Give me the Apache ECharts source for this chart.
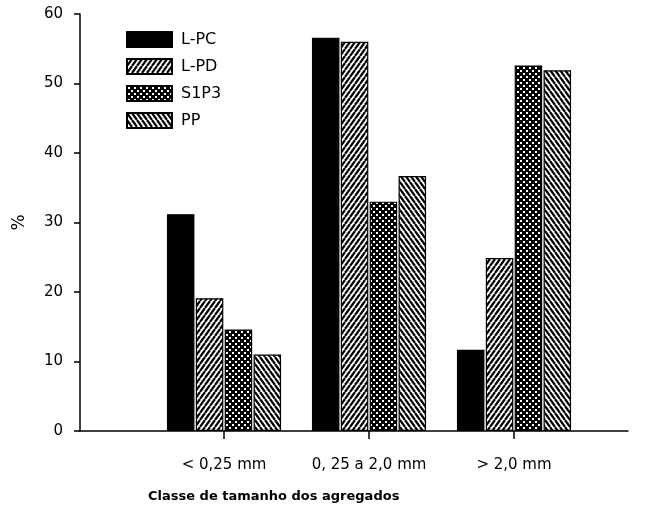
<!DOCTYPE html>
<html><head><meta charset="utf-8">
<script src="https://cdn.jsdelivr.net/npm/echarts@6/dist/echarts.min.js"></script>
<style>html,body{margin:0;padding:0;background:#fff}#c{width:654px;height:509px}</style>
</head><body><div id="c"></div>
<script>
const categories = ['< 0,25 mm', '0, 25 a 2,0 mm', '> 2,0 mm'];
const seriesNames = ['L-PC', 'L-PD', 'S1P3', 'PP'];
const valuesLPC = [31.2, 56.6, 11.7];
const valuesLPD = [19.1, 56.0, 24.9];
const valuesS1P3 = [14.6, 33.0, 52.6];
const valuesPP = [11.0, 36.7, 51.9];
const yTicks = [0, 10, 20, 30, 40, 50, 60];
const yTitle = '%';
const xTitle = 'Classe de tamanho dos agregados';

function tile(w, h, draw) {
  const c = document.createElement('canvas');
  c.width = w; c.height = h;
  const ctx = c.getContext('2d');
  draw(ctx, w, h);
  return c;
}
function stripes(dir) {
  return tile(5, 7, (ctx, w, h) => {
    ctx.fillStyle = '#fff'; ctx.fillRect(0, 0, w, h);
    ctx.strokeStyle = '#000'; ctx.lineWidth = 2.2;
    for (let k = -1; k <= 1; k++) {
      ctx.beginPath();
      if (dir > 0) { ctx.moveTo(k * w, h); ctx.lineTo(k * w + w, 0); }
      else { ctx.moveTo(k * w, 0); ctx.lineTo(k * w + w, h); }
      ctx.stroke();
    }
  });
}
const patLPD = stripes(1);
const patPP = stripes(-1);
const patS1P3 = tile(6, 6, (ctx, w, h) => {
  ctx.fillStyle = '#000'; ctx.fillRect(0, 0, w, h);
  ctx.fillStyle = '#fff';
  ctx.fillRect(1, 1, 2, 2);
  ctx.fillRect(4, 4, 2, 2);
});
function pat(src) { return { image: src, repeat: 'repeat' }; }

const fills = ['#000', pat(patLPD), pat(patS1P3), pat(patPP)];
const vals = [valuesLPC, valuesLPD, valuesS1P3, valuesPP];

const chart = echarts.init(document.getElementById('c'), null, { renderer: 'canvas' });
const font = 'DejaVu Sans';
const gridTop = 14, gridBottom = 509 - 431;
chart.setOption({
  animation: false,
  backgroundColor: '#fff',
  textStyle: { fontFamily: font },
  legend: {
    orient: 'vertical', left: 121, top: 26, itemWidth: 45, itemHeight: 15, itemGap: 10,
    icon: 'rect',
    textStyle: { fontFamily: font, fontSize: 16, color: '#000', padding: [0, 0, 0, 4] },
    data: seriesNames
  },
  grid: [
    { left: 80, right: 26, top: gridTop, bottom: gridBottom },
    { left: 151.5, width: 435, top: gridTop, bottom: gridBottom }
  ],
  xAxis: [
    { type: 'value', gridIndex: 0, min: 0, max: 1,
      axisLine: { show: true, lineStyle: { color: '#000', width: 1.5 } },
      axisTick: { show: false }, axisLabel: { show: false }, splitLine: { show: false } },
    { type: 'category', gridIndex: 1, data: categories,
      axisLine: { show: false },
      axisTick: { show: true, alignWithLabel: true, length: 8, lineStyle: { color: '#000', width: 1.5 } },
      axisLabel: { fontFamily: font, fontSize: 15, color: '#000', margin: 27, interval: 0 },
      splitLine: { show: false } }
  ],
  yAxis: [
    { type: 'value', gridIndex: 0, min: yTicks[0], max: yTicks[yTicks.length - 1], interval: 10,
      name: yTitle, nameLocation: 'middle', nameGap: 52, nameRotate: 90,
      nameTextStyle: { fontFamily: font, fontSize: 17, color: '#000' },
      axisLine: { show: true, lineStyle: { color: '#000', width: 1.5 } },
      axisTick: { show: true, length: 6, lineStyle: { color: '#000', width: 1.5 } },
      axisLabel: { fontFamily: font, fontSize: 15, color: '#000', margin: 17 },
      splitLine: { show: false } },
    { type: 'value', gridIndex: 1, min: 0, max: 60, show: false }
  ],
  graphic: [{
    type: 'text', left: 148, top: 490,
    style: { text: xTitle, font: 'bold 13px "DejaVu Sans"', fill: '#000' }
  }],
  series: seriesNames.map((n, i) => ({
    name: n, type: 'bar', xAxisIndex: 1, yAxisIndex: 1,
    data: vals[i], barWidth: 27.5, barGap: '5%',
    itemStyle: { color: fills[i], borderColor: '#000', borderWidth: 1.2 }
  }))
});
</script></body></html>
